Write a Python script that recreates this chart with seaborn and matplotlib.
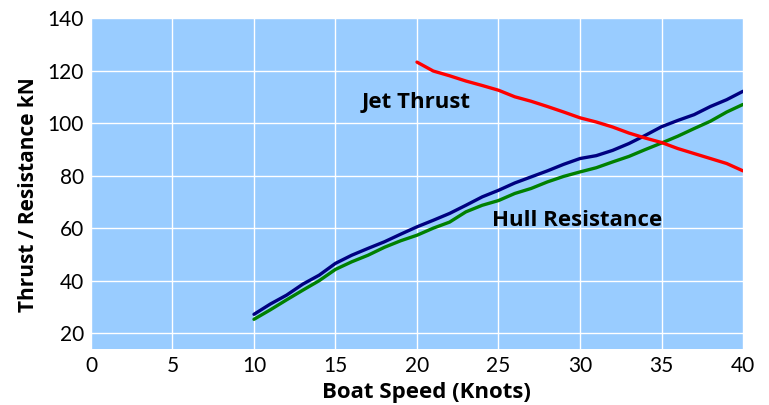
import pandas as pd
import matplotlib.pyplot as plt
import seaborn as sns

# values
speed_hull = list(range(10, 41))
hull_upper = [27.2, 31.1, 34.5, 38.7, 42.1, 46.6, 49.7, 52.3, 54.8, 57.7,
              60.5, 63.0, 65.6, 68.7, 71.9, 74.4, 77.2, 79.5, 81.8, 84.3,
              86.5, 87.6, 89.6, 92.2, 95.3, 98.6, 101.0, 103.2, 106.3, 108.9,
              112.1]
hull_lower = [25.3, 28.9, 32.7, 36.4, 40.0, 44.3, 47.2, 49.7, 52.7, 55.2,
              57.3, 60.0, 62.3, 66.2, 68.7, 70.5, 73.2, 75.1, 77.6, 79.7,
              81.4, 83.0, 85.2, 87.3, 89.9, 92.4, 95.0, 97.9, 100.7, 104.2,
              107.1]
speed_jet = list(range(20, 41))
jet_thrust = [123.2, 119.8, 118.0, 116.0, 114.3, 112.5, 110.0, 108.3, 106.3,
              104.2, 102.0, 100.4, 98.5, 96.2, 94.3, 92.6, 90.3, 88.4, 86.5,
              84.6, 81.8]

hull = pd.DataFrame({'speed': speed_hull, 'upper': hull_upper, 'lower': hull_lower})
jet = pd.DataFrame({'speed': speed_jet, 'thrust': jet_thrust})

sns.set_style('whitegrid', {'axes.facecolor': '#99CCFF', 'grid.color': 'white',
                            'axes.edgecolor': '#99CCFF'})
plt.rcParams['font.family'] = ['Lato', 'DejaVu Sans']
bold = ['Open Sans', 'DejaVu Sans']

fig = plt.figure(figsize=(7.69, 4.05), dpi=100)
ax = fig.add_axes([0.1183, 0.1383, 0.8479, 0.8173])

sns.lineplot(data=hull, x='speed', y='upper', color='#000080', linewidth=2.4, ax=ax)
sns.lineplot(data=hull, x='speed', y='lower', color='#008000', linewidth=2.4, ax=ax)
sns.lineplot(data=jet, x='speed', y='thrust', color='#FF0000', linewidth=2.4, ax=ax)

ax.set_xlim(0, 40)
ax.set_ylim(14, 140)
ax.set_xticks(range(0, 41, 5))
ax.set_yticks(range(20, 141, 20))
ax.grid(True, color='white', linewidth=1.0)
for s in ax.spines.values():
    s.set_visible(False)
ax.tick_params(length=0, labelsize=15, pad=5, labelcolor='black')

ax.set_xlabel('Boat Speed (Knots)', fontsize=16, fontweight='bold', family=bold,
              color='black')
ax.set_ylabel('Thrust / Resistance kN', fontsize=15, fontweight='bold', family=bold,
              color='black')
ax.xaxis.set_label_coords(0.514, -0.101)
ax.yaxis.set_label_coords(-0.079, 0.465)

ax.text(16.6, 107.8, 'Jet Thrust', fontsize=16, fontweight='bold', family=bold,
        color='black', va='center')
ax.text(24.6, 63, 'Hull Resistance', fontsize=16, fontweight='bold', family=bold,
        color='black', va='center')

plt.savefig('out.png', dpi=100)
